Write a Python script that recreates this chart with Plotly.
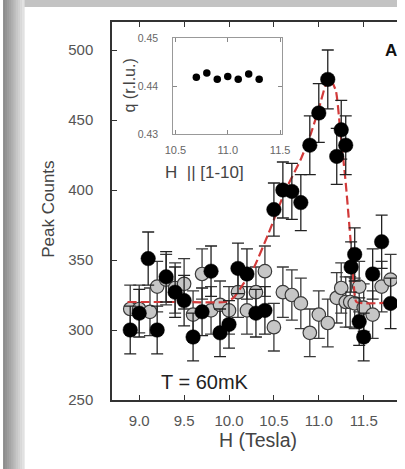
import plotly.graph_objects as go

# ---------------- data ----------------
black_H = [8.9, 9.0, 9.1, 9.2, 9.3, 9.4, 9.5, 9.6, 9.7, 9.8, 9.9, 10.0, 10.1, 10.2, 10.3, 10.4,
           10.5, 10.6, 10.7, 10.8, 10.9, 11.0, 11.1, 11.2, 11.25, 11.3, 11.36, 11.4, 11.45, 11.5,
           11.6, 11.7, 11.8]
black_counts = [300, 312, 351, 300, 338, 327, 321, 295, 313, 342, 298, 304, 344, 340, 312, 314,
                386, 400, 399, 391, 432, 455, 479, 424, 443, 432, 345, 354, 306, 295,
                340, 363, 319]
black_err = [17, 17, 19, 17, 18, 18, 18, 17, 17, 18, 17, 17, 18, 18, 17, 17,
             19, 20, 20, 20, 21, 21, 21, 20, 21, 21, 18, 19, 17, 17,
             18, 19, 18]

gray_H = [8.9, 9.0, 9.12, 9.2, 9.3, 9.4, 9.5, 9.6, 9.7, 9.8, 9.9, 10.0, 10.1, 10.2, 10.3, 10.4,
          10.5, 10.6, 10.7, 10.8, 10.9, 11.0, 11.1, 11.2, 11.25, 11.3, 11.35, 11.4, 11.45, 11.5,
          11.6, 11.7, 11.8]
gray_counts = [315, 315, 313, 331, 336, 330, 333, 311, 340, 314, 318, 314, 327, 314, 327, 342,
               302, 327, 325, 319, 298, 311, 305, 323, 330, 320, 320, 319, 331, 316,
               311, 331, 336]
gray_err = [17, 17, 17, 18, 18, 18, 18, 17, 18, 17, 17, 17, 18, 17, 18, 18,
            17, 18, 18, 18, 17, 17, 17, 18, 18, 18, 18, 18, 18, 17,
            17, 18, 18]

fit_H = [8.87, 9.5, 9.95, 10.05, 10.15, 10.28, 10.44, 10.63, 10.8, 10.91, 11.0, 11.08, 11.12,
         11.19, 11.24, 11.30, 11.35, 11.39, 11.42, 11.9]
fit_counts = [320, 320, 320, 323, 332, 345, 369, 400, 422, 440, 458, 476, 480,
              471, 442, 405, 367, 332, 320, 320]

inset_H = [10.7, 10.8, 10.9, 11.0, 11.1, 11.2, 11.3]
inset_q = [0.4418, 0.4427, 0.4414, 0.4420, 0.4414, 0.4425, 0.4414]

x_ticks = [9.0, 9.5, 10.0, 10.5, 11.0, 11.5]
y_ticks = [250, 300, 350, 400, 450, 500]
inset_x_ticks = [10.5, 11.0, 11.5]
inset_y_ticks = [0.43, 0.44, 0.45]

# ---------------- geometry helpers ----------------
W, H = 405, 469
L, R, T, B = 112, 405, 22, 400


def fx(px):
    return (px - L) / (R - L)


def fy(py):
    return (B - py) / (B - T)


FONT = "Liberation Sans, Arial, sans-serif"

fig = go.Figure()

fig.add_trace(go.Scatter(
    x=gray_H, y=gray_counts, mode="markers",
    marker=dict(size=13.5, color="#c6c6c6", line=dict(color="#3a3a3a", width=1.2)),
    error_y=dict(type="data", array=gray_err, color="#3a3a3a", thickness=1.3, width=6),
    showlegend=False, xaxis="x", yaxis="y"))

fig.add_trace(go.Scatter(
    x=fit_H, y=fit_counts, mode="lines",
    line=dict(color="#d23a3a", width=2.2, dash="9px,4px", shape="spline", smoothing=0.5),
    showlegend=False, xaxis="x", yaxis="y"))

fig.add_trace(go.Scatter(
    x=black_H, y=black_counts, mode="markers",
    marker=dict(size=14.5, color="#000000", line=dict(color="#000000", width=0.5)),
    error_y=dict(type="data", array=black_err, color="#222222", thickness=1.3, width=6),
    showlegend=False, xaxis="x", yaxis="y"))

fig.add_trace(go.Scatter(
    x=inset_H, y=inset_q, mode="markers",
    marker=dict(size=7.5, color="#000000"),
    showlegend=False, xaxis="x2", yaxis="y2"))

# background strips (slide look)
shapes = []
n = 11
for i in range(n):
    c = int(140 + (225 - 140) * i / (n - 1))
    shapes.append(dict(type="rect", xref="paper", yref="paper",
                       x0=fx(i * 2), x1=fx(i * 2 + 2.2), y0=fy(H), y1=fy(0),
                       fillcolor=f"rgb({c},{c},{c})", line=dict(width=0), layer="below"))
shapes.append(dict(type="rect", xref="paper", yref="paper",
                   x0=fx(22), x1=fx(W), y0=fy(7), y1=fy(0),
                   fillcolor="rgb(195,195,195)", line=dict(width=0), layer="below"))

ann = [
    dict(text="Peak Counts", x=fx(47), y=fy(209), textangle=-90, font=dict(size=17, color="#444")),
    dict(text="H (Tesla)", x=fx(262), y=fy(440), font=dict(size=19.5, color="#444")),
    dict(text="T = 60mK", x=fx(208), y=fy(382), font=dict(size=20, color="#222")),
    dict(text="<b>A</b>", x=fx(399), y=fy(50), font=dict(size=17, color="#111")),
    dict(text="q (r.l.u.)", x=fx(131), y=fy(85), textangle=-90, font=dict(size=16, color="#444")),
    dict(text="H  || [1-10]", x=fx(207), y=fy(173), font=dict(size=17, color="#444")),
]
for a in ann:
    a.update(xref="paper", yref="paper", showarrow=False, xanchor="center", yanchor="middle")

fig.update_layout(
    width=W, height=H,
    margin=dict(l=L, r=W - R, t=T, b=H - B, pad=0),
    paper_bgcolor="white", plot_bgcolor="white",
    font=dict(family=FONT, color="#444"),
    shapes=shapes, annotations=ann,
    xaxis=dict(range=[8.697, 11.871], tickvals=x_ticks, ticktext=[f"{v:.1f}" for v in x_ticks],
               ticks="inside", ticklen=5, tickwidth=1.3, tickcolor="#333",
               showline=True, linecolor="#333", linewidth=1.5, mirror="ticks",
               showgrid=False, zeroline=False, tickfont=dict(size=15, color="#555"),
               ticklabelstandoff=6),
    yaxis=dict(range=[250, 520], tickvals=y_ticks,
               ticks="inside", ticklen=5, tickwidth=1.3, tickcolor="#333",
               showline=True, linecolor="#333", linewidth=1.5, mirror=False,
               showgrid=False, zeroline=False, tickfont=dict(size=15, color="#555"),
               ticklabelstandoff=14),
    xaxis2=dict(domain=[fx(175), fx(287)], anchor="y2", range=[10.48, 11.52],
                tickvals=inset_x_ticks, ticktext=["10.5", "11.0", "11.5"],
                ticks="inside", ticklen=4, tickcolor="#888", showline=True, linecolor="#999",
                linewidth=1, mirror="ticks", showgrid=False, zeroline=False,
                tickfont=dict(size=11, color="#666"), ticklabelstandoff=6),
    yaxis2=dict(domain=[fy(134), fy(38)], anchor="x2", range=[0.43, 0.45],
                tickvals=inset_y_ticks, ticktext=["0.43", "0.44", "0.45"],
                ticks="inside", ticklen=4, tickcolor="#888", showline=True, linecolor="#999",
                linewidth=1, mirror="ticks", showgrid=False, zeroline=False,
                tickfont=dict(size=10.5, color="#666"), ticklabelstandoff=12),
)

fig.write_html("out.html")
